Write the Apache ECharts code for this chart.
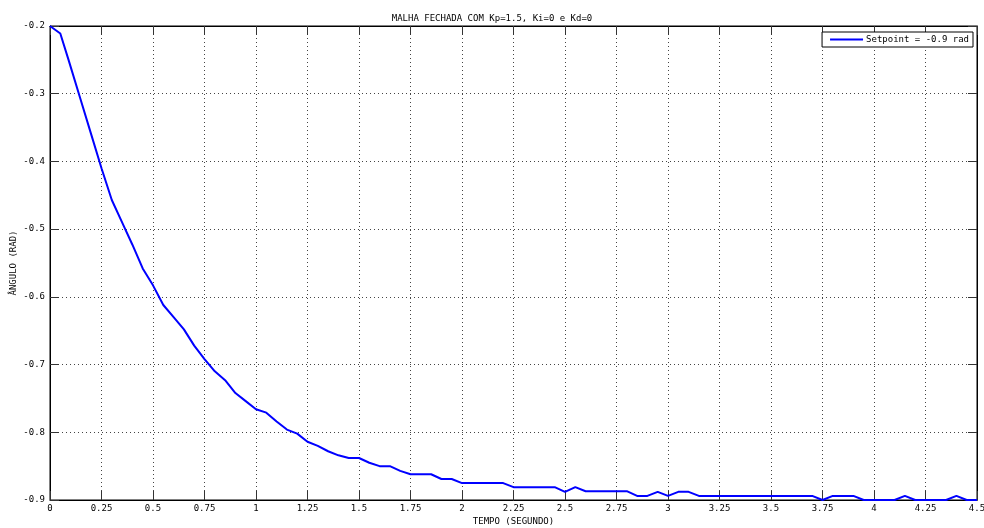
<!DOCTYPE html>
<html>
<head>
<meta charset="utf-8">
<script src="https://cdn.jsdelivr.net/npm/echarts@6/dist/echarts.min.js"></script>
<style>html,body{margin:0;padding:0;background:#fff;}#c{width:984px;height:528px;}</style>
</head>
<body>
<div id="c"></div>
<script>
const titleText = 'MALHA FECHADA COM Kp=1.5, Ki=0 e Kd=0';
const seriesName = 'Setpoint = -0.9 rad';
const xName = 'TEMPO (SEGUNDO)';
const yName = 'ÂNGULO (RAD)';

const time = [0, 0.05, 0.09, 0.15, 0.2, 0.25, 0.3, 0.35, 0.4, 0.45, 0.5, 0.55, 0.6, 0.65, 0.7, 0.75, 0.8, 0.85, 0.9, 0.95,
  1.0, 1.05, 1.1, 1.15, 1.2, 1.25, 1.3, 1.35, 1.4, 1.45, 1.5, 1.55, 1.6, 1.65, 1.7, 1.75, 1.85, 1.9, 1.95, 2.0,
  2.2, 2.25, 2.45, 2.5, 2.55, 2.6, 2.8, 2.85, 2.9, 2.95, 3.0, 3.05, 3.1, 3.15, 3.7, 3.75, 3.8, 3.9, 3.95, 4.1,
  4.15, 4.2, 4.35, 4.4, 4.45, 4.5];
const angle = [-0.2, -0.211, -0.25, -0.31, -0.36, -0.41, -0.457, -0.49, -0.523, -0.558, -0.583, -0.612, -0.63, -0.648, -0.672, -0.692, -0.71, -0.723, -0.742, -0.754,
  -0.766, -0.771, -0.784, -0.796, -0.802, -0.814, -0.82, -0.828, -0.834, -0.838, -0.838, -0.845, -0.85, -0.85, -0.857, -0.862, -0.862, -0.869, -0.869, -0.875,
  -0.875, -0.881, -0.881, -0.888, -0.881, -0.887, -0.887, -0.894, -0.894, -0.888, -0.894, -0.888, -0.888, -0.894, -0.894, -0.9, -0.894, -0.894, -0.9, -0.9,
  -0.894, -0.9, -0.9, -0.894, -0.9, -0.9];

const xMin = 0, xMax = 4.5, xStep = 0.25;
const yMin = -0.9, yMax = -0.2, yStep = 0.1;

const FONT = 'DejaVu Sans Mono';
const FS = 9;
const fmt = v => String(+(+v).toFixed(2));

const chart = echarts.init(document.getElementById('c'), null, {renderer: 'canvas'});
const tickStyle = {show: true, inside: true, length: 9, lineStyle: {color: '#333', width: 1}};
const gridLine = {show: true, lineStyle: {color: '#444', type: [1, 3], width: 1}};
const axisLine = {show: true, onZero: false, lineStyle: {color: '#000', width: 1}};

chart.setOption({
  animation: false,
  backgroundColor: '#fff',
  title: {
    text: titleText, left: 'center', top: 9,
    textStyle: {fontFamily: FONT, fontSize: FS, fontWeight: 'normal', color: '#000'}
  },
  legend: {
    right: 11, top: 32, orient: 'horizontal',
    backgroundColor: '#fff', borderColor: '#000', borderWidth: 1, borderRadius: 0,
    padding: [3, 4, 3, 8],
    itemWidth: 33, itemHeight: 2, itemGap: 4,
    icon: 'rect',
    textStyle: {fontFamily: FONT, fontSize: FS, color: '#000', padding: [0, 0, 0, -2]},
    data: [seriesName]
  },
  grid: {left: 50, right: 7, top: 26, bottom: 28, containLabel: false, outerBoundsMode: 'none',
    show: true, borderColor: '#000', borderWidth: 1, backgroundColor: '#fff'},
  xAxis: [{
    type: 'value', min: xMin, max: xMax, interval: xStep,
    name: xName, nameLocation: 'middle', nameGap: 17, nameMoveOverlap: false,
    nameTextStyle: {fontFamily: FONT, fontSize: FS, color: '#000'},
    axisLine: axisLine, axisTick: tickStyle, splitLine: gridLine,
    axisLabel: {fontFamily: FONT, fontSize: FS, color: '#000', margin: 4, formatter: fmt, showMinLabel: true, showMaxLabel: true}
  }, {
    type: 'value', position: 'top', min: xMin, max: xMax, interval: xStep,
    axisLine: axisLine, axisTick: tickStyle, splitLine: {show: false}, axisLabel: {show: false}
  }],
  yAxis: [{
    type: 'value', min: yMin, max: yMax, interval: yStep,
    name: yName, nameLocation: 'middle', nameGap: 32, nameMoveOverlap: false,
    nameTextStyle: {fontFamily: FONT, fontSize: FS, color: '#000'},
    axisLine: axisLine, axisTick: tickStyle, splitLine: gridLine,
    axisLabel: {fontFamily: FONT, fontSize: FS, color: '#000', margin: 5, formatter: fmt, showMinLabel: true, showMaxLabel: true}
  }, {
    type: 'value', position: 'right', min: yMin, max: yMax, interval: yStep,
    axisLine: axisLine, axisTick: tickStyle, splitLine: {show: false}, axisLabel: {show: false}
  }],
  series: [{
    name: seriesName, type: 'line', xAxisIndex: 0, yAxisIndex: 0,
    data: time.map((t, i) => [t, angle[i]]),
    showSymbol: false, symbol: 'none', smooth: false,
    lineStyle: {color: '#0000ff', width: 2}, itemStyle: {color: '#0000ff'},
    clip: true
  }]
});
</script>
</body>
</html>
